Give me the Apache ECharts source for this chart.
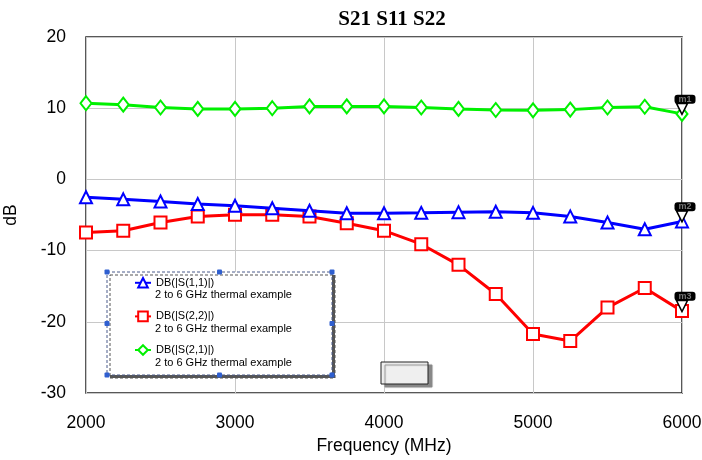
<!DOCTYPE html>
<html>
<head>
<meta charset="utf-8">
<script src="https://cdn.jsdelivr.net/npm/echarts@6/dist/echarts.min.js"></script>
<style>
  html, body { margin: 0; padding: 0; background: #fff; }
  #chart { width: 702px; height: 460px; }
</style>
</head>
<body>
<div id="chart"></div>
<script>
var freqs = [2000, 2250, 2500, 2750, 3000, 3250, 3500, 3750, 4000, 4250, 4500, 4750, 5000, 5250, 5500, 5750, 6000]
var s11 = [-2.5, -2.8, -3.1, -3.45, -3.7, -4.05, -4.4, -4.75, -4.75, -4.7, -4.6, -4.55, -4.7, -5.2, -6.05, -7.0, -5.9]
var s22 = [-7.45, -7.2, -6.05, -5.2, -4.95, -4.95, -5.2, -6.15, -7.2, -9.1, -12.0, -16.1, -21.7, -22.7, -18.0, -15.25, -18.5]
var s21 = [10.7, 10.5, 10.1, 9.9, 9.9, 10.0, 10.25, 10.25, 10.25, 10.1, 9.9, 9.75, 9.7, 9.8, 10.1, 10.2, 9.2]
var seriesNames = ['DB(|S(1,1)|)', 'DB(|S(2,2)|)', 'DB(|S(2,1)|)']
var subTitle = '2 to 6 GHz thermal example'
var markerNames = ['m2', 'm3', 'm1']

function pairs(ys) {
  return freqs.map(function (f, i) { return [f, ys[i]] })
}

function marker(ys, name) {
  return {
    silent: true,
    data: [{
      coord: [freqs[freqs.length - 1], ys[ys.length - 1]],
      symbol: 'triangle',
      symbolRotate: 180,
      symbolSize: 11,
      symbolOffset: [0, -5],
      itemStyle: { color: '#fff', borderColor: '#000', borderWidth: 1.5 },
      label: {
        show: true,
        position: 'top',
        distance: -1,
        offset: [3, 0],
        formatter: name,
        color: '#777',
        backgroundColor: '#000',
        borderRadius: 3,
        padding: [0, 4],
        fontSize: 9,
        fontWeight: 'bold'
      }
    }]
  }
}

var chart = echarts.init(document.getElementById('chart'))

// legend frame with its handles
var box = { x: 107, y: 272, w: 225, h: 103 }
var handles = []
;[0, 0.5, 1].forEach(function (fx) {
  ;[0, 0.5, 1].forEach(function (fy) {
    if (fx === 0.5 && fy === 0.5) return
    handles.push({
      type: 'rect',
      z: 6,
      shape: { x: box.x + fx * box.w - 2.5, y: box.y + fy * box.h - 2.5, width: 5, height: 5, r: 1 },
      style: { fill: '#2f5fd0' }
    })
  })
})

// second line of each legend entry
var subLines = seriesNames.map(function (n, i) {
  return {
    type: 'text',
    z: 11,
    x: 155,
    y: 295 + i * 34,
    style: {
      text: subTitle,
      fill: '#000',
      font: '11px "Liberation Sans"',
      verticalAlign: 'middle'
    }
  }
})

var option = {
  animation: false,
  title: {
    text: 'S21 S11 S22',
    left: 387,
    top: 4,
    textAlign: 'center',
    textStyle: { fontFamily: 'Liberation Serif', fontWeight: 'bold', fontSize: 21, color: '#000' }
  },
  grid: {
    left: 86,
    right: 20,
    top: 37,
    bottom: 67,
    outerBoundsMode: 'none',
    containLabel: false,
    show: true,
    borderColor: '#222',
    borderWidth: 1.5
  },
  legend: {
    orient: 'vertical',
    left: 134,
    top: 277,
    padding: 0,
    z: 10,
    itemWidth: 16,
    itemHeight: 12,
    itemGap: 22,
    data: seriesNames,
    textStyle: {
      fontFamily: 'Liberation Sans',
      fontSize: 11,
      color: '#000'
    }
  },
  graphic: [
    {
      type: 'rect',
      z: 5,
      shape: { x: box.x, y: box.y, width: box.w, height: box.h },
      style: {
        fill: '#fff',
        stroke: '#4a5a8a',
        lineWidth: 1,
        lineDash: [3, 2],
        shadowColor: '#555',
        shadowOffsetX: 3,
        shadowOffsetY: 3,
        shadowBlur: 0
      }
    },
    {
      type: 'rect',
      z: 5,
      shape: { x: 381, y: 362, width: 47, height: 22 },
      style: {
        fill: '#efefef',
        stroke: '#222',
        lineWidth: 1,
        shadowColor: '#888',
        shadowOffsetX: 4,
        shadowOffsetY: 3,
        shadowBlur: 1
      }
    }
  ].concat(handles, subLines),
  xAxis: {
    type: 'value',
    min: 2000,
    max: 6000,
    interval: 1000,
    name: 'Frequency (MHz)',
    nameLocation: 'middle',
    nameGap: 44,
    nameTextStyle: { fontFamily: 'Liberation Sans', fontSize: 17.5, color: '#000' },
    axisLine: { show: false },
    axisTick: { show: false },
    axisLabel: {
      margin: 21,
      fontFamily: 'Liberation Sans',
      fontSize: 17.5,
      color: '#000',
      formatter: function (v) { return String(v) }
    },
    splitLine: { lineStyle: { color: '#c8c8c8', width: 1 } }
  },
  yAxis: {
    type: 'value',
    min: -30,
    max: 20,
    interval: 10,
    name: 'dB',
    nameLocation: 'middle',
    nameGap: 66,
    nameTextStyle: { fontFamily: 'Liberation Sans', fontSize: 17.5, color: '#000' },
    axisLine: { show: false },
    axisTick: { show: false },
    axisLabel: {
      margin: 20,
      fontFamily: 'Liberation Sans',
      fontSize: 17.5,
      color: '#000',
      formatter: function (v) { return String(v) }
    },
    splitLine: { lineStyle: { color: '#c8c8c8', width: 1 } }
  },
  series: [
    {
      name: seriesNames[0],
      type: 'line',
      data: pairs(s11),
      symbol: 'emptyTriangle',
      symbolSize: 12,
      lineStyle: { color: '#0000ff', width: 3 },
      itemStyle: { color: '#0000ff', borderWidth: 2.5 },
      markPoint: marker(s11, markerNames[0]),
      z: 3
    },
    {
      name: seriesNames[1],
      type: 'line',
      data: pairs(s22),
      symbol: 'emptyRect',
      symbolSize: 12,
      lineStyle: { color: '#ff0000', width: 3 },
      itemStyle: { color: '#ff0000', borderWidth: 2.5 },
      markPoint: marker(s22, markerNames[1]),
      z: 2
    },
    {
      name: seriesNames[2],
      type: 'line',
      data: pairs(s21),
      symbol: 'emptyDiamond',
      symbolSize: [11, 14],
      lineStyle: { color: '#00f000', width: 3 },
      itemStyle: { color: '#00f000', borderWidth: 2.5 },
      markPoint: marker(s21, markerNames[2]),
      z: 2
    }
  ]
}
chart.setOption(option)
</script>
</body>
</html>
